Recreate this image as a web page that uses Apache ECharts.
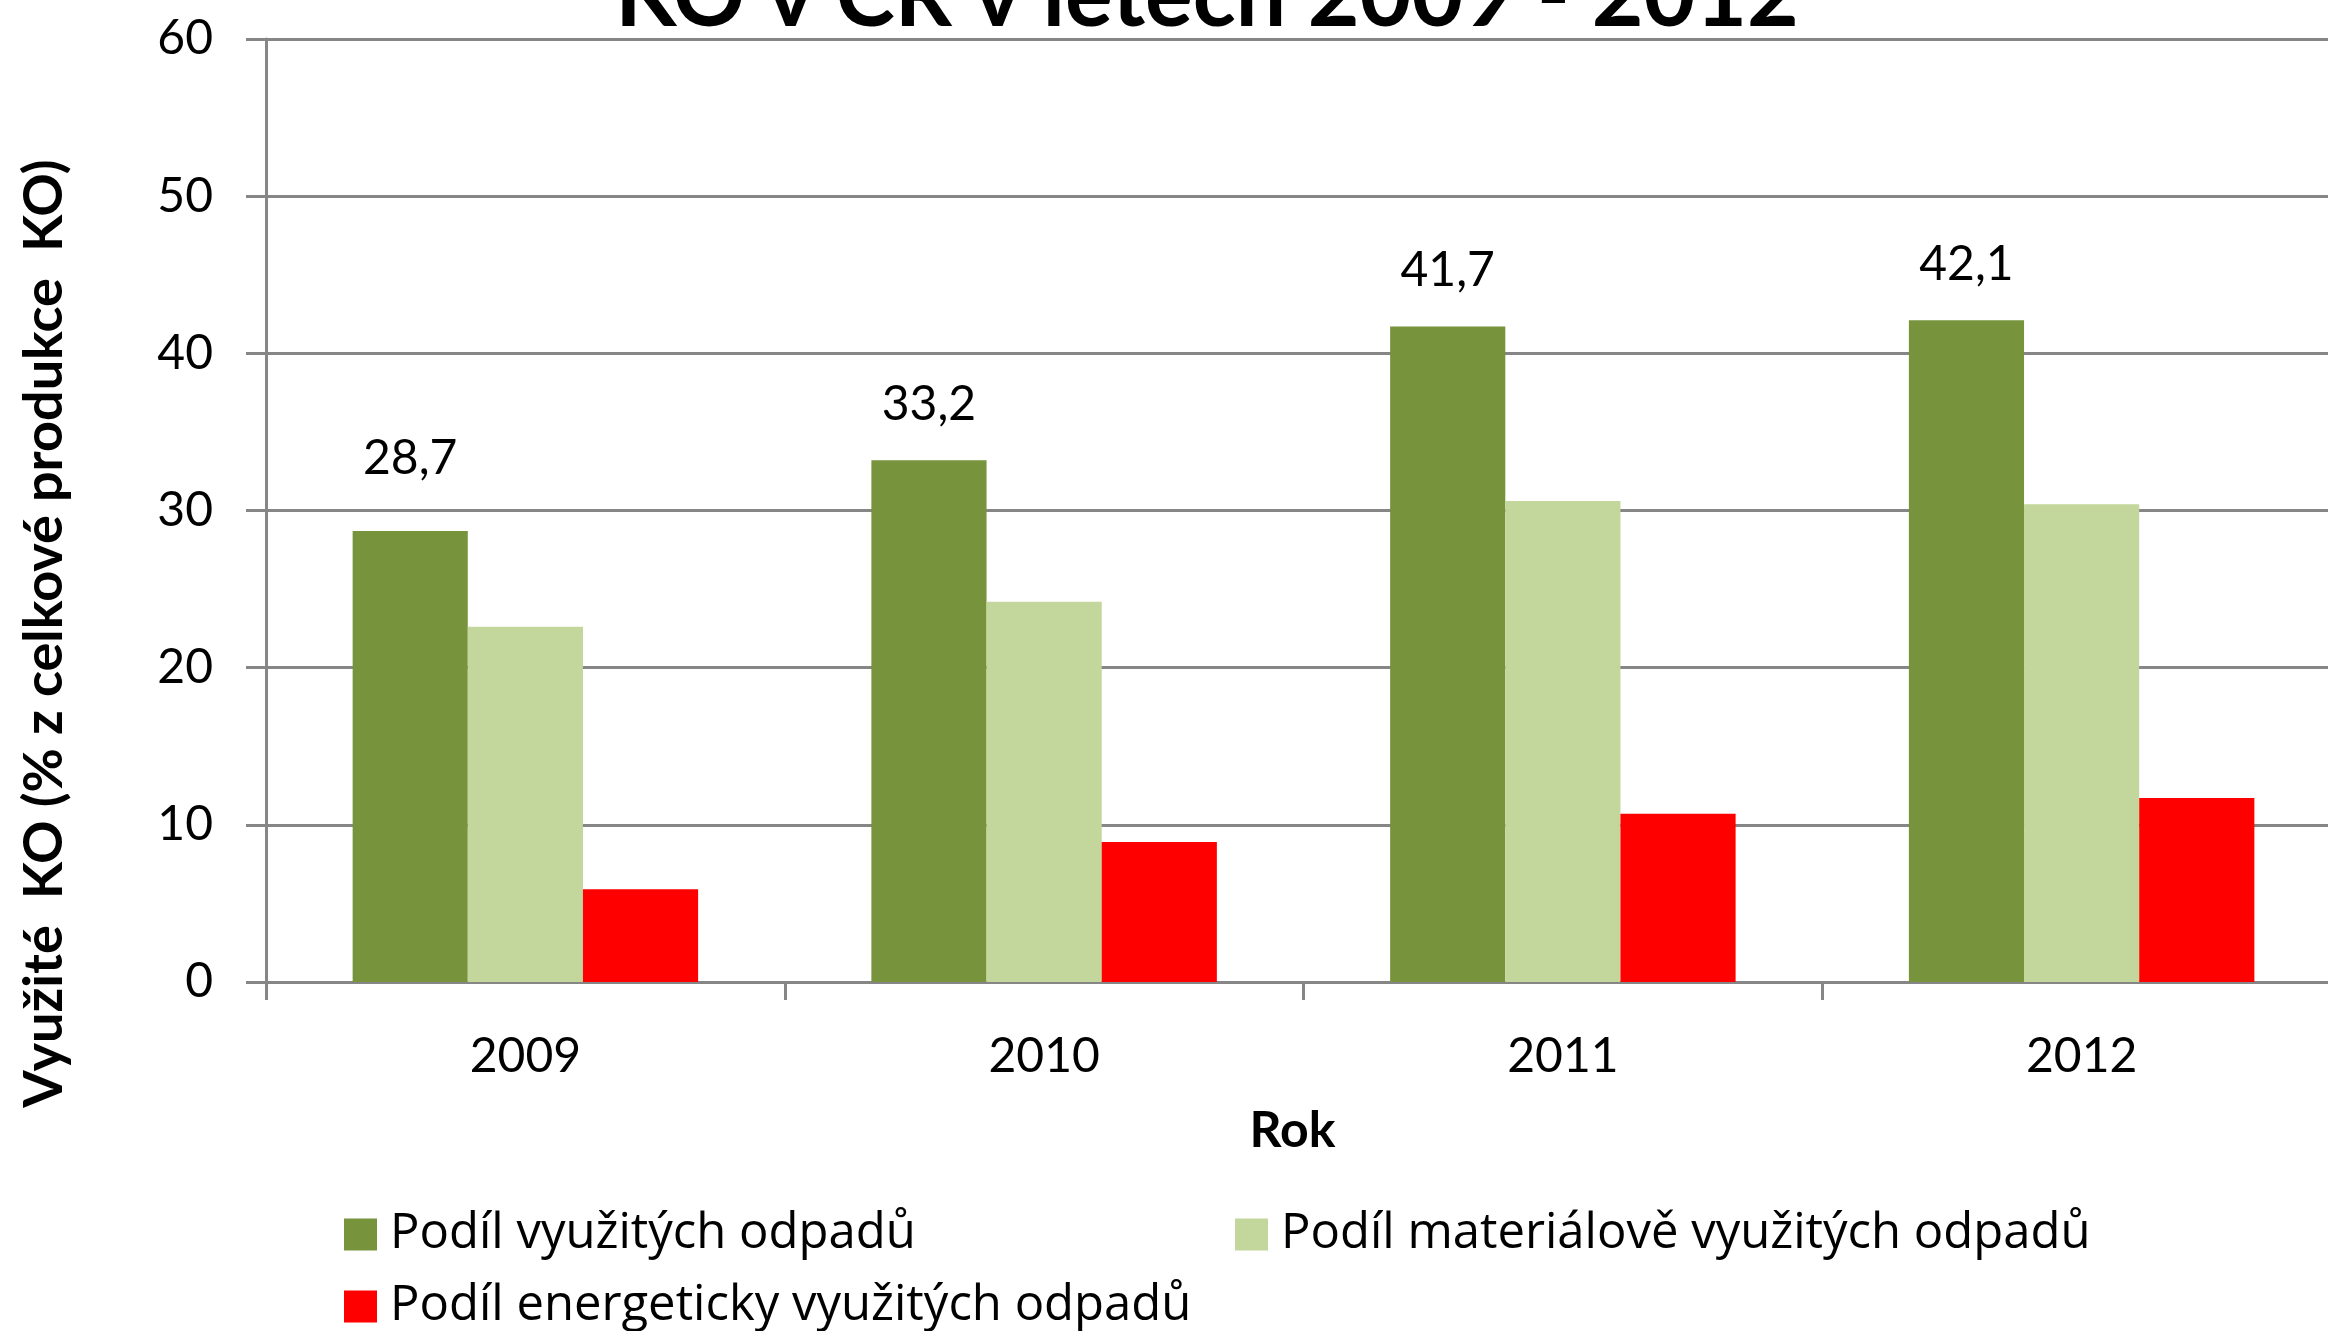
<!DOCTYPE html>
<html>
<head>
<meta charset="utf-8">
<script src="https://cdn.jsdelivr.net/npm/echarts@6/dist/echarts.min.js"></script>
<style>html,body{margin:0;padding:0;background:#fff;overflow:hidden}#c{width:2341px;height:1331px}</style>
</head>
<body>
<div id="c"></div>
<script>
const years = ['2009', '2010', '2011', '2012'];
const seriesNames = ['Podíl využitých odpadů', 'Podíl materiálově využitých odpadů', 'Podíl energeticky využitých odpadů'];
const vyuzite = [28.7, 33.2, 41.7, 42.1];
const materialove = [22.6, 24.2, 30.6, 30.4];
const energeticky = [5.9, 8.9, 10.7, 11.7];
const yTicks = {min: 0, max: 60, interval: 10};
const titleText = 'KO v ČR v letech 2009 - 2012';
const xName = 'Rok';
const yName = 'Využité  KO (% z celkové produkce  KO)';
const colors = ['#77933C', '#C3D69B', '#FF0000'];

const F = 'Lato';
const axisGray = '#868686';
const chart = echarts.init(document.getElementById('c'));
const legendBase = (name, left, top) => ({
  data: [name], left: left, top: top, icon: 'rect', itemWidth: 33, itemHeight: 32,
  selectedMode: false,
  textStyle: {fontFamily: 'Open Sans', fontSize: 49, color: '#000', padding: [0, 0, 0, 8]}
});
const labelDistances = [48, 32, 32, 32];
chart.setOption({
  animation: false,
  backgroundColor: '#fff',
  title: {
    text: titleText, left: 1202, textAlign: 'center', top: -52,
    textStyle: {fontFamily: F, fontWeight: 'bold', fontSize: 89.3, color: '#000'}
  },
  grid: {left: 266, top: 39, right: 0, height: 943},
  legend: [
    legendBase(seriesNames[0], 339, 1205),
    legendBase(seriesNames[1], 1230, 1205),
    legendBase(seriesNames[2], 339, 1277)
  ],
  xAxis: {
    type: 'category', data: years,
    name: xName, nameLocation: 'middle', nameGap: 124,
    nameTextStyle: {fontFamily: F, fontWeight: 'bold', fontSize: 50, color: '#000', padding: [0, 22, 0, 0]},
    axisLine: {lineStyle: {color: axisGray, width: 3}},
    axisTick: {show: true, length: 18, lineStyle: {color: axisGray, width: 3}},
    axisLabel: {fontFamily: F, fontSize: 48, color: '#000', margin: 51}
  },
  yAxis: {
    type: 'value', min: yTicks.min, max: yTicks.max, interval: yTicks.interval,
    name: yName, nameLocation: 'middle', nameRotate: 90, nameGap: 194,
    nameTextStyle: {fontFamily: F, fontWeight: 'bold', fontSize: 54, color: '#000', padding: [0, 246, 0, 0]},
    axisLine: {show: true, lineStyle: {color: axisGray, width: 3}},
    axisTick: {show: true, length: 20, lineStyle: {color: axisGray, width: 3}},
    splitLine: {lineStyle: {color: axisGray, width: 3}},
    axisLabel: {fontFamily: F, fontSize: 48, color: '#000', margin: 53}
  },
  series: [
    {name: seriesNames[0], type: 'bar', barGap: '0%', barCategoryGap: '33.4%',
     data: vyuzite.map((v, i) => ({value: v, label: {distance: labelDistances[i]}})),
     itemStyle: {color: colors[0]},
     label: {show: true, position: 'top', fontFamily: F, fontSize: 48, color: '#000',
       formatter: p => String(p.value).replace('.', ',')}},
    {name: seriesNames[1], type: 'bar', data: materialove, barGap: '0%', barCategoryGap: '33.4%',
     itemStyle: {color: colors[1]}},
    {name: seriesNames[2], type: 'bar', data: energeticky, barGap: '0%', barCategoryGap: '33.4%',
     itemStyle: {color: colors[2]}}
  ]
});
</script>
</body>
</html>
